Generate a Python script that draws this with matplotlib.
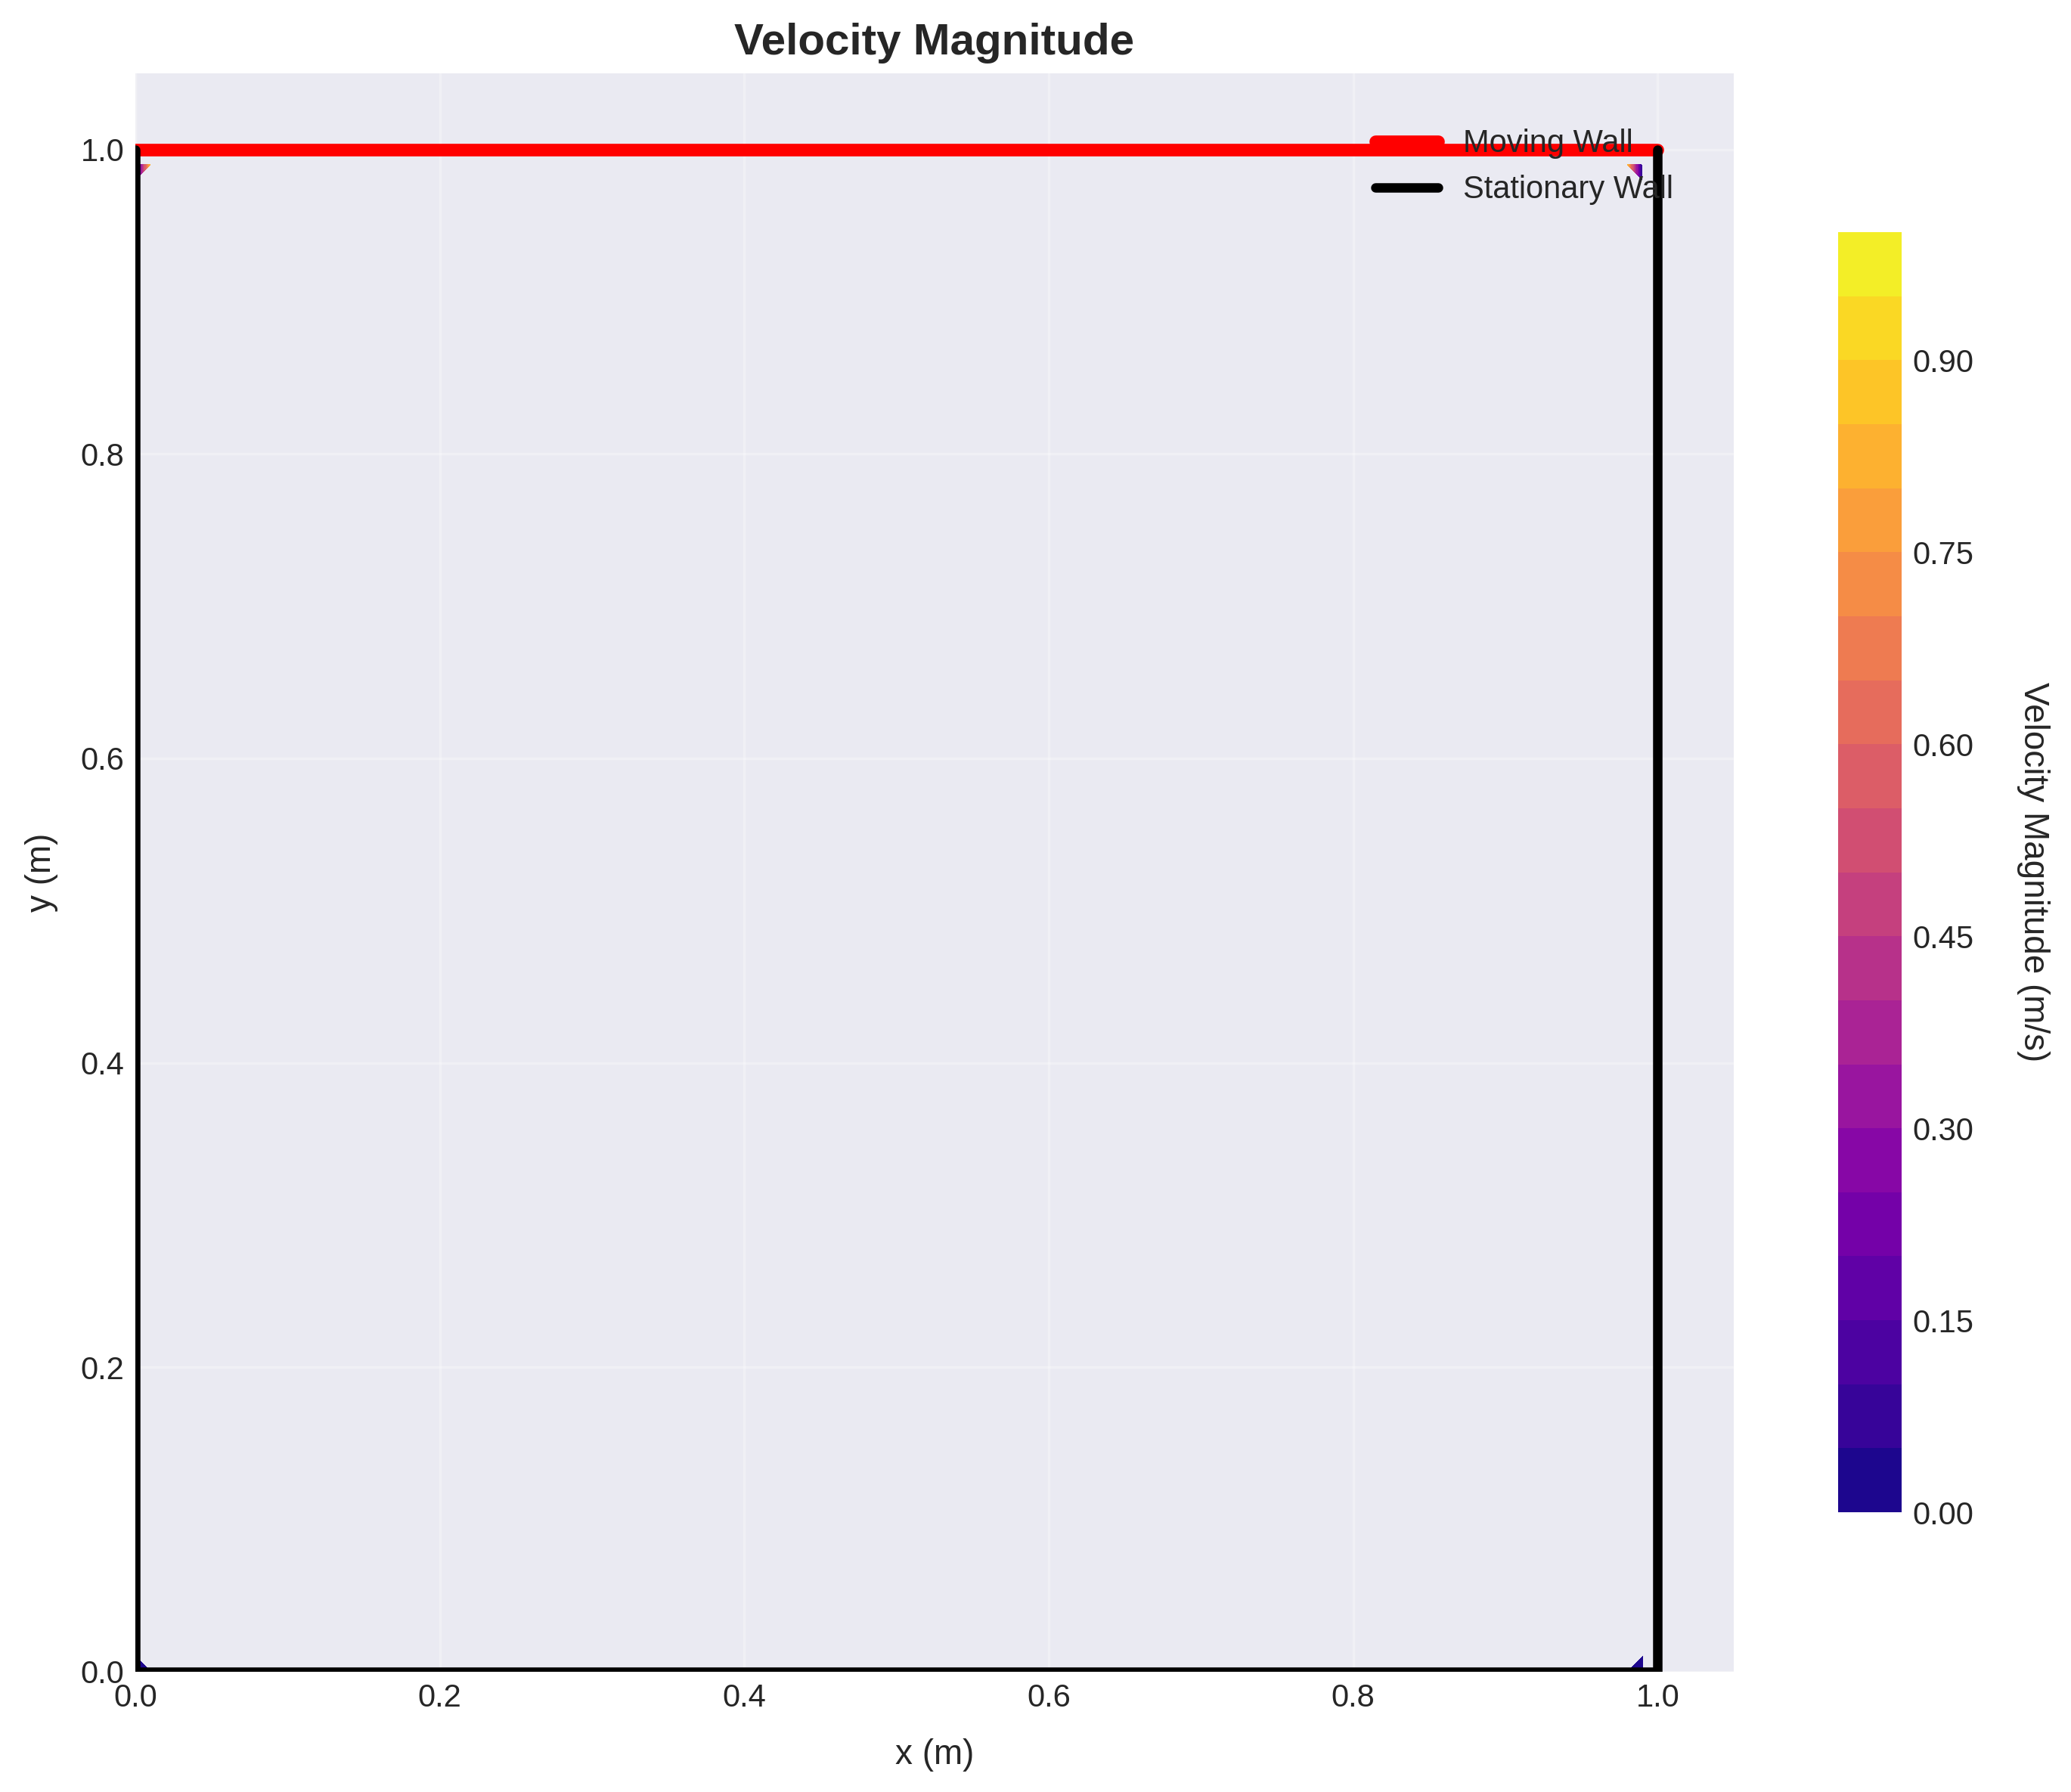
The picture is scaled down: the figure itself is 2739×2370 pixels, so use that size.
import matplotlib
matplotlib.use("Agg")
import matplotlib.pyplot as plt
import numpy as np

plt.style.use("seaborn-v0_8-darkgrid")
plt.rcParams["font.family"] = ["Liberation Sans", "DejaVu Sans"]

nan = np.nan

# Only the four corner cells of the velocity field are finite, the rest is NaN.
# Each patch: x nodes, y nodes, |u| (rows follow y, columns follow x)
tl_x = [0.00, 0.01]
tl_y = [0.98, 0.99]
tl_vel = [[0.0, nan],
          [0.0, 0.85]]

tr_x = [0.98, 0.99]
tr_y = [0.98, 0.99]
tr_vel = [[nan, 0.0],
          [0.85, 0.0]]

bl_x = [0.00, 0.01]
bl_y = [0.00, 0.01]
bl_vel = [[0.0, 0.0],
          [0.0, nan]]

br_x = [0.98, 0.99]
br_y = [0.00, 0.01]
br_vel = [[0.0, 0.0],
          [nan, 0.0]]

levels = [0.00, 0.05, 0.10, 0.15, 0.20, 0.25, 0.30, 0.35, 0.40, 0.45, 0.50,
          0.55, 0.60, 0.65, 0.70, 0.75, 0.80, 0.85, 0.90, 0.95, 1.00]
cbar_ticks = [0.00, 0.15, 0.30, 0.45, 0.60, 0.75, 0.90]

# walls of the cavity
lid_x = [0, 1]
lid_y = [1, 1]
wall_x = [0, 0, 1, 1]
wall_y = [1, 0, 0, 1]

fig = plt.figure(figsize=(2739 / 300, 2370 / 300), dpi=300)
ax = fig.add_axes([0.0650, 0.0671, 0.7725, 0.8920])
cax = fig.add_axes([0.8876, 0.1561, 0.0307, 0.7143])

patches = [(tl_x, tl_y, tl_vel), (tr_x, tr_y, tr_vel),
           (bl_x, bl_y, bl_vel), (br_x, br_y, br_vel)]
cf = None
for px, py, pv in patches:
    X, Y = np.meshgrid(px, py)
    Z = np.ma.masked_invalid(np.array(pv, dtype=float))
    c = ax.contourf(X, Y, Z, levels=levels, cmap="plasma")
    if cf is None:
        cf = c

ax.plot(lid_x, lid_y, color="red", linewidth=4, label="Moving Wall")
ax.plot(wall_x, wall_y, color="black", linewidth=3, label="Stationary Wall")

ax.set_xlim(0, 1.05)
ax.set_ylim(0, 1.05)
ax.set_aspect("equal")
ax.grid(True, alpha=0.3)
ax.set_xlabel("x (m)", fontsize=11, labelpad=8)
ax.set_ylabel("y (m)", fontsize=11, labelpad=7)
ax.set_title("Velocity Magnitude", fontsize=14, fontweight="bold")
ax.legend(loc="upper right", fontsize=10, bbox_to_anchor=(0.980, 0.983))

cbar = fig.colorbar(cf, cax=cax)
cbar.set_ticks(cbar_ticks)
cbar.ax.set_yticklabels([f"{t:.2f}" for t in cbar_ticks])
cbar.set_label("Velocity Magnitude (m/s)", rotation=270, labelpad=24, fontsize=11)

fig.savefig("out.png", dpi=300)
